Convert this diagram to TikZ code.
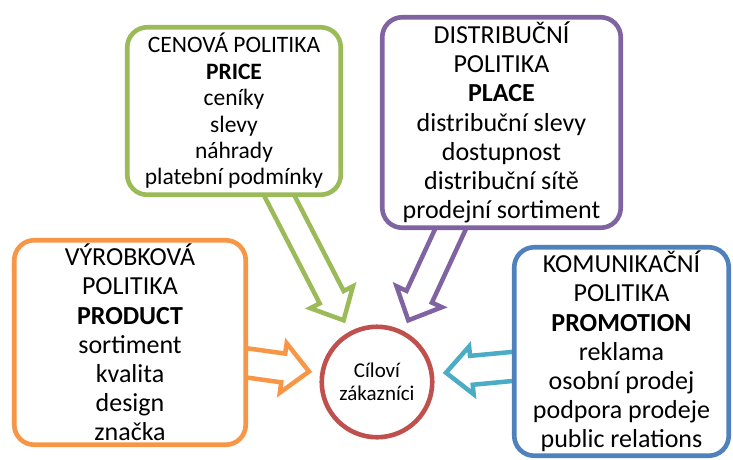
\documentclass[tikz,border=0pt]{standalone}
\usepackage{fontspec}
\setmainfont{Carlito}
\usetikzlibrary{calc}
\definecolor{cOrange}{HTML}{F79646}
\definecolor{cGreen}{HTML}{9BBB59}
\definecolor{cPurple}{HTML}{8064A2}
\definecolor{cBlue}{HTML}{4F81BD}
\definecolor{cAqua}{HTML}{4BACC6}
\definecolor{cRed}{HTML}{C0504D}
% block arrow: start, tip, colour, shaft half-width, head half-width, head length
\newcommand\blockarr[6]{%
  \coordinate (hb) at ($(#2)!#6!(#1)$);
  \filldraw[blockline, draw=#3]
    ($(#1)!#4!90:(#2)$) -- ($(hb)!#4!90:(#2)$) -- ($(hb)!#5!90:(#2)$) -- (#2)
    -- ($(hb)!#5!-90:(#2)$) -- ($(hb)!#4!-90:(#2)$) -- ($(#1)!#4!-90:(#2)$) -- cycle;
}
\tikzset{
  blockline/.style={fill=white, line width=4.5pt, line join=miter},
  mixbox/.style={draw=#1, fill=white, line width=4.6pt, rounded corners=20pt,
    align=center, inner sep=0pt, text=black,
    font=\fontsize{26pt}{29.2pt}\selectfont},
  target/.style={draw=cRed, fill=white, line width=4.6pt, circle, align=center,
    inner sep=0pt, minimum size=110.5pt, font=\fontsize{21pt}{23pt}\selectfont}
}
\begin{document}
\begin{tikzpicture}[x=1pt, y=-1pt]
\useasboundingbox (0,0) rectangle (733,459);
% arrow ends
\coordinate (os) at (226,360);   \coordinate (ot) at (309,371.5);
\coordinate (gs) at (270.8,179.2); \coordinate (gt) at (343.6,320.3);
\coordinate (ps) at (458.4,211.9); \coordinate (pt) at (408.3,320.3);
\coordinate (bs) at (531.9,364.6); \coordinate (bt) at (446,372.7);
\blockarr{os}{ot}{cOrange}{14.5pt}{25pt}{26pt}
\blockarr{gs}{gt}{cGreen}{13.5pt}{24pt}{26pt}
\blockarr{ps}{pt}{cPurple}{14pt}{25pt}{26pt}
\blockarr{bs}{bt}{cAqua}{14.5pt}{24pt}{25.5pt}
% boxes
\node[mixbox=cGreen, minimum width=213.5pt, minimum height=167.5pt,
      font=\fontsize{23.5pt}{26.4pt}\selectfont] (price) at (234,111)
  {CENOVÁ POLITIKA\\\textbf{PRICE}\\ceníky\\slevy\\náhrady\\platební podmínky};
\node[mixbox=cPurple, minimum width=238.5pt, minimum height=210.5pt] (place) at (501.5,122.5)
  {DISTRIBUČNÍ\\POLITIKA\\\textbf{PLACE}\\distribuční slevy\\dostupnost\\distribuční sítě\\prodejní sortiment};
\node[mixbox=cOrange, minimum width=231.5pt, minimum height=204.5pt] (product) at (130,342.5)
  {VÝROBKOVÁ\\POLITIKA\\\textbf{PRODUCT}\\sortiment\\kvalita\\design\\značka};
\node[mixbox=cBlue, minimum width=214.5pt, minimum height=208.5pt] (promo) at (621.5,351.5)
  {KOMUNIKAČNÍ\\POLITIKA\\\textbf{PROMOTION}\\reklama\\osobní prodej\\podpora prodeje\\public relations};
\node[target] (cil) at (377,382) {Cíloví\\zákazníci};
\end{tikzpicture}
\end{document}
